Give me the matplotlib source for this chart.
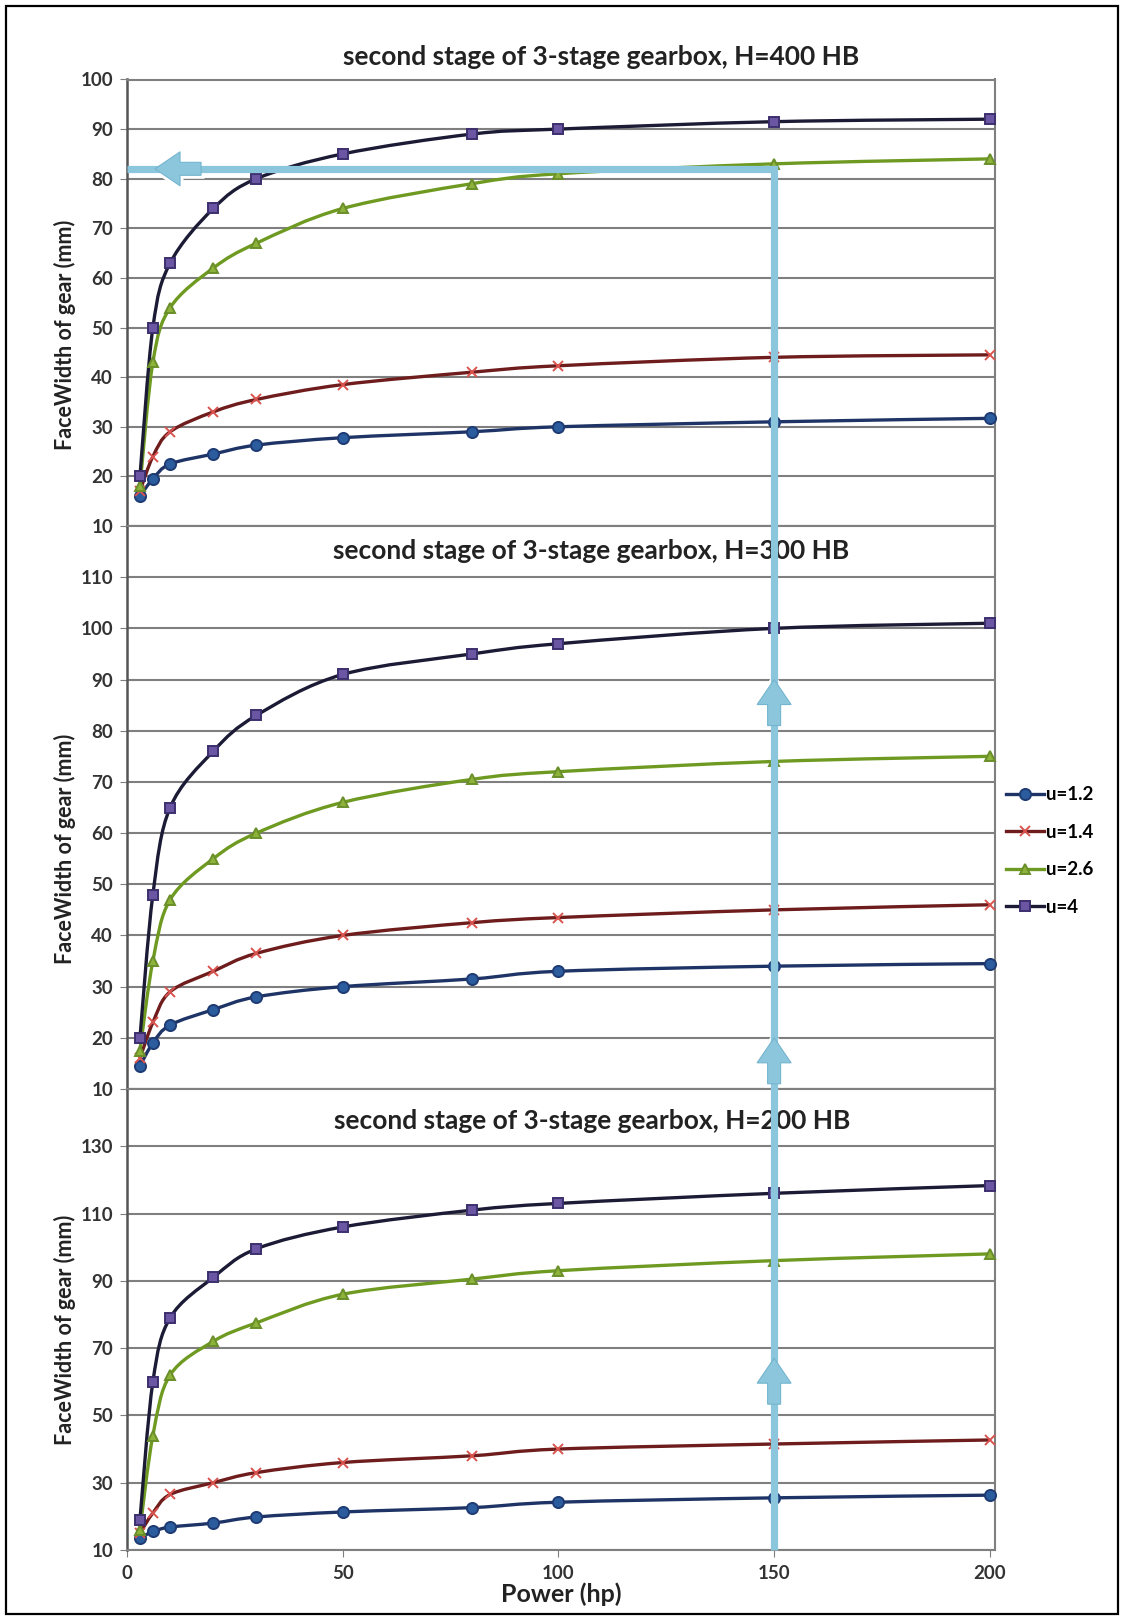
import numpy as np
import matplotlib
matplotlib.use("Agg")
import matplotlib.pyplot as plt
from matplotlib.path import Path
from matplotlib.patches import PathPatch, Polygon, Rectangle
from matplotlib.lines import Line2D
from matplotlib.transforms import IdentityTransform

plt.rcParams['font.family'] = ['Lato', 'DejaVu Sans']
plt.rcParams['font.weight'] = 'bold'

# data
power = [3, 6, 10, 20, 30, 50, 80, 100, 150, 200]
series_labels = ['u=1.2', 'u=1.4', 'u=2.6', 'u=4']
titles = ['second stage of 3-stage gearbox, H=400 HB',
          'second stage of 3-stage gearbox, H=300 HB',
          'second stage of 3-stage gearbox, H=200 HB']
x_ticks = [0, 50, 100, 150, 200]

h400_u12 = [16, 19.5, 22.5, 24.5, 26.3, 27.8, 29, 30, 31, 31.7]
h400_u14 = [17, 24, 29, 33, 35.5, 38.5, 41, 42.3, 44, 44.5]
h400_u26 = [18, 43, 54, 62, 67, 74, 79, 81, 83, 84]
h400_u4 = [20, 50, 63, 74, 80, 85, 89, 90, 91.5, 92]

h300_u12 = [14.5, 19, 22.5, 25.5, 28, 30, 31.5, 33, 34, 34.5]
h300_u14 = [16, 23, 29, 33, 36.5, 40, 42.5, 43.5, 45, 46]
h300_u26 = [17.5, 35, 47, 55, 60, 66, 70.5, 72, 74, 75]
h300_u4 = [20, 48, 65, 76, 83, 91, 95, 97, 100, 101]

h200_u12 = [13.5, 15.5, 16.8, 18, 19.8, 21.3, 22.6, 24.2, 25.5, 26.3]
h200_u14 = [15, 21, 26.5, 30, 33, 36, 38, 40, 41.5, 42.7]
h200_u26 = [16, 44, 62, 72, 77.5, 86, 90.5, 93, 96, 98]
h200_u4 = [19, 60, 79, 91, 99.5, 106, 111, 113, 116, 118.3]

y_ticks_400 = [10, 20, 30, 40, 50, 60, 70, 80, 90, 100]
y_ticks_300 = [10, 20, 30, 40, 50, 60, 70, 80, 90, 100, 110]
y_ticks_200 = [10, 30, 50, 70, 90, 110, 130]

read_power = 150
read_width = 82

# style per series: line colour, marker, marker face, marker edge, size
styles = [
    ('#1f3466', 'o', '#2b5c9e', '#1f3b73', 8),
    ('#6e1c1c', 'x', '#d9534f', '#d9534f', 7),
    ('#6f9a22', '^', '#8db33a', '#6a8f2a', 7.5),
    ('#1b1b35', 's', '#6b56a3', '#3c2f6e', 7.5),
]
BLUE = '#8bc6dc'
GRID = '#7f7f7f'
TEXT = '#222222'


def smooth_path(x, y):
    pts = np.column_stack([x, y]).astype(float)
    n = len(pts)
    verts = [pts[0]]
    codes = [Path.MOVETO]
    for i in range(n - 1):
        p0 = pts[max(i - 1, 0)]
        p1 = pts[i]
        p2 = pts[i + 1]
        p3 = pts[min(i + 2, n - 1)]
        verts += [p1 + (p2 - p0) / 6.0, p2 - (p3 - p1) / 6.0, p2]
        codes += [Path.CURVE4] * 3
    return Path(verts, codes)


def style_axes(ax, ylim, yticks, xlabels):
    ax.set_xlim(0, 201.2)
    ax.set_ylim(*ylim)
    ax.set_xticks(x_ticks)
    ax.set_yticks(yticks)
    ax.grid(axis='y', color=GRID, lw=1.5)
    ax.set_axisbelow(True)
    for side in ['top', 'right', 'bottom']:
        ax.spines[side].set_color(GRID)
        ax.spines[side].set_linewidth(1.5)
    ax.spines['left'].set_color('#555555')
    ax.spines['left'].set_linewidth(1.8)
    ax.tick_params(axis='y', direction='out', length=5, color=GRID,
                   labelsize=13.5, labelcolor='#333333', pad=5)
    ax.tick_params(axis='x', direction='out', length=5, color=GRID,
                   labelsize=13.5, labelcolor='#333333', pad=6,
                   labelbottom=xlabels)


fig = plt.figure(figsize=(11.25, 16.2), dpi=100)
W, H = 1125.0, 1620.0
left, right = 127, 995

panels = [
    (79.5, 526, (10, 100), y_ticks_400,
     [h400_u12, h400_u14, h400_u26, h400_u4], 0.428),
    (526, 1089, (10, 120), y_ticks_300,
     [h300_u12, h300_u14, h300_u26, h300_u4], 0.426),
    (1089, 1550, (10, 147), y_ticks_200,
     [h200_u12, h200_u14, h200_u26, h200_u4], 0.477),
]
title_pos = [(601, 57), (591, 551), (592, 1121)]

axes = []
for k, (top, bot, ylim, yticks, data, lab_y) in enumerate(panels):
    ax = fig.add_axes([left / W, 1 - bot / H, (right - left) / W, (bot - top) / H])
    style_axes(ax, ylim, yticks, k == 2)
    for vals, (lc, mk, mf, me, ms) in zip(data, styles):
        ax.add_patch(PathPatch(smooth_path(power, vals), fill=False,
                               edgecolor=lc, lw=2.4, zorder=3))
        ax.plot(power, vals, linestyle='none', marker=mk, markersize=ms,
                markerfacecolor=mf, markeredgecolor=me, markeredgewidth=1.4,
                zorder=4, clip_on=False)
    ax.set_ylabel('FaceWidth of gear (mm)', fontsize=15.5, fontweight='bold',
                  color=TEXT)
    ax.yaxis.set_label_coords(-0.059, lab_y)
    fig.text(title_pos[k][0] / W, 1 - title_pos[k][1] / H, titles[k],
             fontsize=19, fontweight='bold', color=TEXT,
             ha='center', va='center')
    axes.append(ax)

axes[2].set_xlabel('Power (hp)', fontsize=18, fontweight='bold', color=TEXT,
                   labelpad=0)

# legend to the right of the middle chart
handles = [Line2D([0], [0], color=lc, lw=2.4, marker=mk, markersize=ms,
                  markerfacecolor=mf, markeredgecolor=me, markeredgewidth=1.4)
           for (lc, mk, mf, me, ms) in styles]
fig.legend(handles, series_labels, loc='center left',
           bbox_to_anchor=(1006 / W, 1 - 851 / H), frameon=False,
           handlelength=2.0, handletextpad=0.15,
           labelspacing=1.1, borderpad=0, borderaxespad=0,
           prop={'weight': 'bold', 'size': 13.5})

# reading line: from 150 hp up to the top chart, then across to the axis
p_bot = axes[2].transData.transform((read_power, 10))
p_corner = axes[0].transData.transform((read_power, read_width))
p_left = axes[0].transData.transform((0, read_width))


def block_arrow(tip, direction, head_w=34, head_l=25, shaft_w=13, shaft_l=21):
    d = np.asarray(direction, float)
    nrm = np.array([-d[1], d[0]])
    tip = np.asarray(tip, float)
    hb = tip - d * head_l
    sb = tip - d * (head_l + shaft_l)
    return [tip, hb + nrm * head_w / 2, hb + nrm * shaft_w / 2,
            sb + nrm * shaft_w / 2, sb - nrm * shaft_w / 2,
            hb - nrm * shaft_w / 2, hb - nrm * head_w / 2]


arrow_tips = [
    (axes[0].transData.transform((6.5, read_width)), (-1, 0)),
    (axes[1].transData.transform((read_power, 90)), (0, 1)),
    (axes[1].transData.transform((read_power, 20)), (0, 1)),
    (axes[2].transData.transform((read_power, 67)), (0, 1)),
]
for tip, d in arrow_tips:
    fig.add_artist(Polygon(block_arrow(tip, d), closed=True, facecolor='white',
                           edgecolor='white', lw=5, transform=IdentityTransform(),
                           zorder=10))

fig.add_artist(Line2D([p_left[0], p_corner[0], p_bot[0]],
                      [p_left[1], p_corner[1], p_bot[1]],
                      color=BLUE, lw=5.2, solid_joinstyle='miter',
                      solid_capstyle='butt', transform=IdentityTransform(),
                      zorder=11))

for tip, d in arrow_tips:
    fig.add_artist(Polygon(block_arrow(tip, d), closed=True, facecolor=BLUE,
                           edgecolor='#74b5cf', lw=0.8, transform=IdentityTransform(),
                           zorder=12))

# outer frame
fig.add_artist(Rectangle((6 / W, 6 / H), (1118 - 6) / W, (1614 - 6) / H,
                         transform=fig.transFigure, fill=False,
                         edgecolor='black', lw=1.6))

fig.savefig('out.png', dpi=100, facecolor='white')
